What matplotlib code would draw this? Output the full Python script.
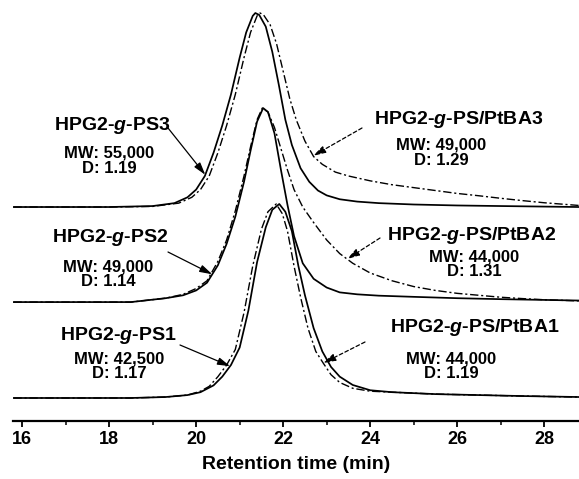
import numpy as np
import matplotlib
matplotlib.use("Agg")
import matplotlib.pyplot as plt

plt.rcParams['font.family'] = ['Liberation Sans', 'DejaVu Sans']
plt.rcParams['font.weight'] = 'bold'
plt.rcParams['mathtext.fontset'] = 'custom'
plt.rcParams['mathtext.it'] = 'Liberation Sans:bold:italic'
plt.rcParams['mathtext.rm'] = 'Liberation Sans:bold'

# ---- data (normalized detector response) ----
ps3_x = [15.8, 18.0, 19.0, 19.5, 19.8, 20.0, 20.2, 20.4, 20.6, 20.8, 21.0, 21.15, 21.3, 21.36, 21.45, 21.6,
         21.75, 21.9, 22.05, 22.2, 22.4, 22.6, 22.8, 23.0, 23.3, 23.7, 24.2, 25.0, 26.0, 27.0, 28.8]
ps3_y = [0, 0, 0.005, 0.02, 0.05, 0.09, 0.16, 0.28, 0.42, 0.58, 0.77, 0.9, 0.985, 1.0, 0.99, 0.93,
         0.80, 0.63, 0.45, 0.32, 0.2, 0.13, 0.085, 0.06, 0.04, 0.028, 0.02, 0.013, 0.008, 0.005, 0.0]

ptba3_x = [15.8, 18.0, 19.0, 19.6, 19.9, 20.1, 20.3, 20.5, 20.7, 20.9, 21.1, 21.25, 21.4, 21.47, 21.55, 21.7,
           21.85, 22.0, 22.15, 22.3, 22.5, 22.7, 22.9, 23.2, 23.5, 24.0, 24.5, 25.0, 25.5, 26.0, 26.5, 27.0,
           27.5, 28.0, 28.8]
ptba3_y = [0, 0, 0.003, 0.02, 0.05, 0.09, 0.16, 0.28, 0.42, 0.58, 0.77, 0.9, 0.985, 1.0, 0.99, 0.94,
           0.84, 0.70, 0.56, 0.45, 0.34, 0.26, 0.22, 0.18, 0.16, 0.135, 0.115, 0.1, 0.085, 0.07, 0.058, 0.045,
           0.033, 0.022, 0.008]

ps2_x = [15.8, 18.5, 19.3, 19.7, 20.0, 20.25, 20.5, 20.7, 20.9, 21.1, 21.25, 21.4, 21.54, 21.65, 21.8, 21.95,
         22.1, 22.25, 22.45, 22.7, 23.0, 23.3, 23.7, 24.2, 25.0, 26.0, 27.0, 28.8]
ps2_y = [0, 0, 0.02, 0.035, 0.06, 0.1, 0.19, 0.3, 0.44, 0.62, 0.78, 0.93, 1.0, 0.98, 0.87, 0.68,
         0.5, 0.34, 0.2, 0.12, 0.075, 0.05, 0.04, 0.033, 0.027, 0.02, 0.015, 0.008]

ptba2_x = [15.8, 18.5, 19.3, 19.7, 20.0, 20.25, 20.5, 20.7, 20.9, 21.1, 21.25, 21.4, 21.52, 21.65, 21.8, 21.95,
           22.1, 22.25, 22.45, 22.7, 23.0, 23.3, 23.6, 24.0, 24.5, 25.0, 25.5, 26.0, 26.5, 27.0, 27.5, 28.0, 28.8]
ptba2_y = [0, 0, 0.02, 0.04, 0.07, 0.11, 0.21, 0.32, 0.47, 0.65, 0.8, 0.94, 1.0, 0.98, 0.9, 0.79,
           0.68, 0.58, 0.49, 0.41, 0.32, 0.25, 0.2, 0.15, 0.11, 0.08, 0.06, 0.045, 0.035, 0.025, 0.018, 0.012, 0.006]

ps1_x = [15.8, 18.5, 19.3, 19.8, 20.1, 20.4, 20.6, 20.8, 21.0, 21.2, 21.4, 21.6, 21.75, 21.91, 22.05, 22.2,
         22.35, 22.5, 22.7, 22.9, 23.1, 23.3, 23.6, 24.0, 24.5, 25.5, 26.5, 27.5, 28.8]
ps1_y = [0, 0, 0.005, 0.015, 0.03, 0.065, 0.11, 0.17, 0.26, 0.45, 0.70, 0.88, 0.97, 1.0, 0.96, 0.86,
         0.68, 0.53, 0.36, 0.24, 0.16, 0.11, 0.067, 0.04, 0.03, 0.02, 0.015, 0.01, 0.005]

ptba1_x = [15.8, 18.5, 19.3, 19.8, 20.1, 20.3, 20.5, 20.7, 20.9, 21.1, 21.3, 21.5, 21.65, 21.84, 21.98, 22.1,
           22.25, 22.4, 22.57, 22.75, 22.92, 23.1, 23.3, 23.6, 24.0, 24.5, 25.5, 26.5, 27.5, 28.8]
ptba1_y = [0, 0, 0.005, 0.015, 0.035, 0.06, 0.11, 0.17, 0.25, 0.44, 0.68, 0.87, 0.96, 1.0, 0.95, 0.86,
           0.68, 0.52, 0.36, 0.24, 0.18, 0.12, 0.08, 0.05, 0.035, 0.03, 0.02, 0.015, 0.01, 0.005]

offsets = [0.1186, 0.613, 1.103]  # bottom, middle, top trace baselines

ps_names = ["HPG2-$\\mathit{g}$-PS1", "HPG2-$\\mathit{g}$-PS2", "HPG2-$\\mathit{g}$-PS3"]
ps_info = ["MW: 42,500\nD: 1.17", "MW: 49,000\nD: 1.14", "MW: 55,000\nD: 1.19"]
ptba_names = ["HPG2-$\\mathit{g}$-PS/PtBA1", "HPG2-$\\mathit{g}$-PS/PtBA2", "HPG2-$\\mathit{g}$-PS/PtBA3"]
ptba_info = ["MW: 44,000\nD: 1.19", "MW: 44,000\nD: 1.31", "MW: 49,000\nD: 1.29"]

x_ticks = [16, 18, 20, 22, 24, 26, 28]
x_label = "Retention time (min)"

# ---- figure ----
W, H = 579, 479
fig = plt.figure(figsize=(W / 100, H / 100), dpi=100)
ax = fig.add_axes([13 / W, (H - 421) / H, 1 - 13 / W, 421 / H])

solid = dict(color='black', lw=1.25, solid_capstyle='round')
dashdot = dict(color='black', lw=1.0, linestyle=(0, (6, 2, 1.5, 2)))

ps_sets = [(ps1_x, ps1_y), (ps2_x, ps2_y), (ps3_x, ps3_y)]
ptba_sets = [(ptba1_x, ptba1_y), (ptba2_x, ptba2_y), (ptba3_x, ptba3_y)]
for off, (sx, sy), (dx, dy) in zip(offsets, ps_sets, ptba_sets):
    ax.plot(sx, np.array(sy) + off, **solid)
    ax.plot(dx, np.array(dy) + off, **dashdot)

ax.set_xlim(15.79, 28.8)
ax.set_ylim(0, 421 / 194)
for s in ['left', 'right', 'top']:
    ax.spines[s].set_visible(False)
ax.spines['bottom'].set_linewidth(1.6)
ax.set_yticks([])
ax.set_xticks(x_ticks)
ax.set_xticks(np.arange(17, 29, 2), minor=True)
ax.tick_params(axis='x', which='major', direction='out', length=4, width=1.3, labelsize=13, pad=3)
ax.tick_params(axis='x', which='minor', direction='out', length=3, width=1.1)
for lab in ax.get_xticklabels():
    lab.set_fontweight('bold')
ax.set_xlabel(x_label, fontsize=14, fontweight='bold', labelpad=6)


def fpix(px, py):
    return (px / W, 1 - py / H)


# labels: (title pixel center, info pixel center, arrow tail pixel, arrow target x)
ps_layout = [((118, 335), (119, 366), (180, 345), 20.78),
             ((110, 238), (108, 274), (168, 252), 20.37),
             ((112, 125), (109, 161), (168, 128), 20.21)]
ptba_layout = [((475, 327), (451, 366), (365, 342), 22.92),
               ((472, 235), (474, 264), (380, 238), 23.47),
               ((459, 120), (441, 153), (362, 128), 22.69)]

head = '-|>,head_length=0.75,head_width=0.22'
for i in range(3):
    (tx, ty), (ix, iy), tail, tgt = ps_layout[i]
    fig.text(*fpix(tx, ty), ps_names[i], ha='center', va='center', fontsize=14, fontweight='bold')
    fig.text(*fpix(ix, iy), ps_info[i], ha='center', va='center', fontsize=12, fontweight='bold',
             linespacing=1.0)
    sx, sy = ps_sets[i]
    ax.annotate('', xy=(tgt, np.interp(tgt, sx, sy) + offsets[i]), xycoords='data',
                xytext=fpix(*tail), textcoords='figure fraction',
                arrowprops=dict(arrowstyle=head, color='black', lw=0.9, mutation_scale=10,
                                shrinkA=0, shrinkB=0))

    (tx, ty), (ix, iy), tail, tgt = ptba_layout[i]
    fig.text(*fpix(tx, ty), ptba_names[i], ha='center', va='center', fontsize=14, fontweight='bold')
    fig.text(*fpix(ix, iy), ptba_info[i], ha='center', va='center', fontsize=12, fontweight='bold',
             linespacing=1.0)
    dx, dy = ptba_sets[i]
    ax.annotate('', xy=(tgt, np.interp(tgt, dx, dy) + offsets[i]), xycoords='data',
                xytext=fpix(*tail), textcoords='figure fraction',
                arrowprops=dict(arrowstyle=head, color='black', lw=0.9, mutation_scale=10,
                                linestyle=(0, (3, 2)), shrinkA=0, shrinkB=0))

fig.savefig("out.png", dpi=100)
